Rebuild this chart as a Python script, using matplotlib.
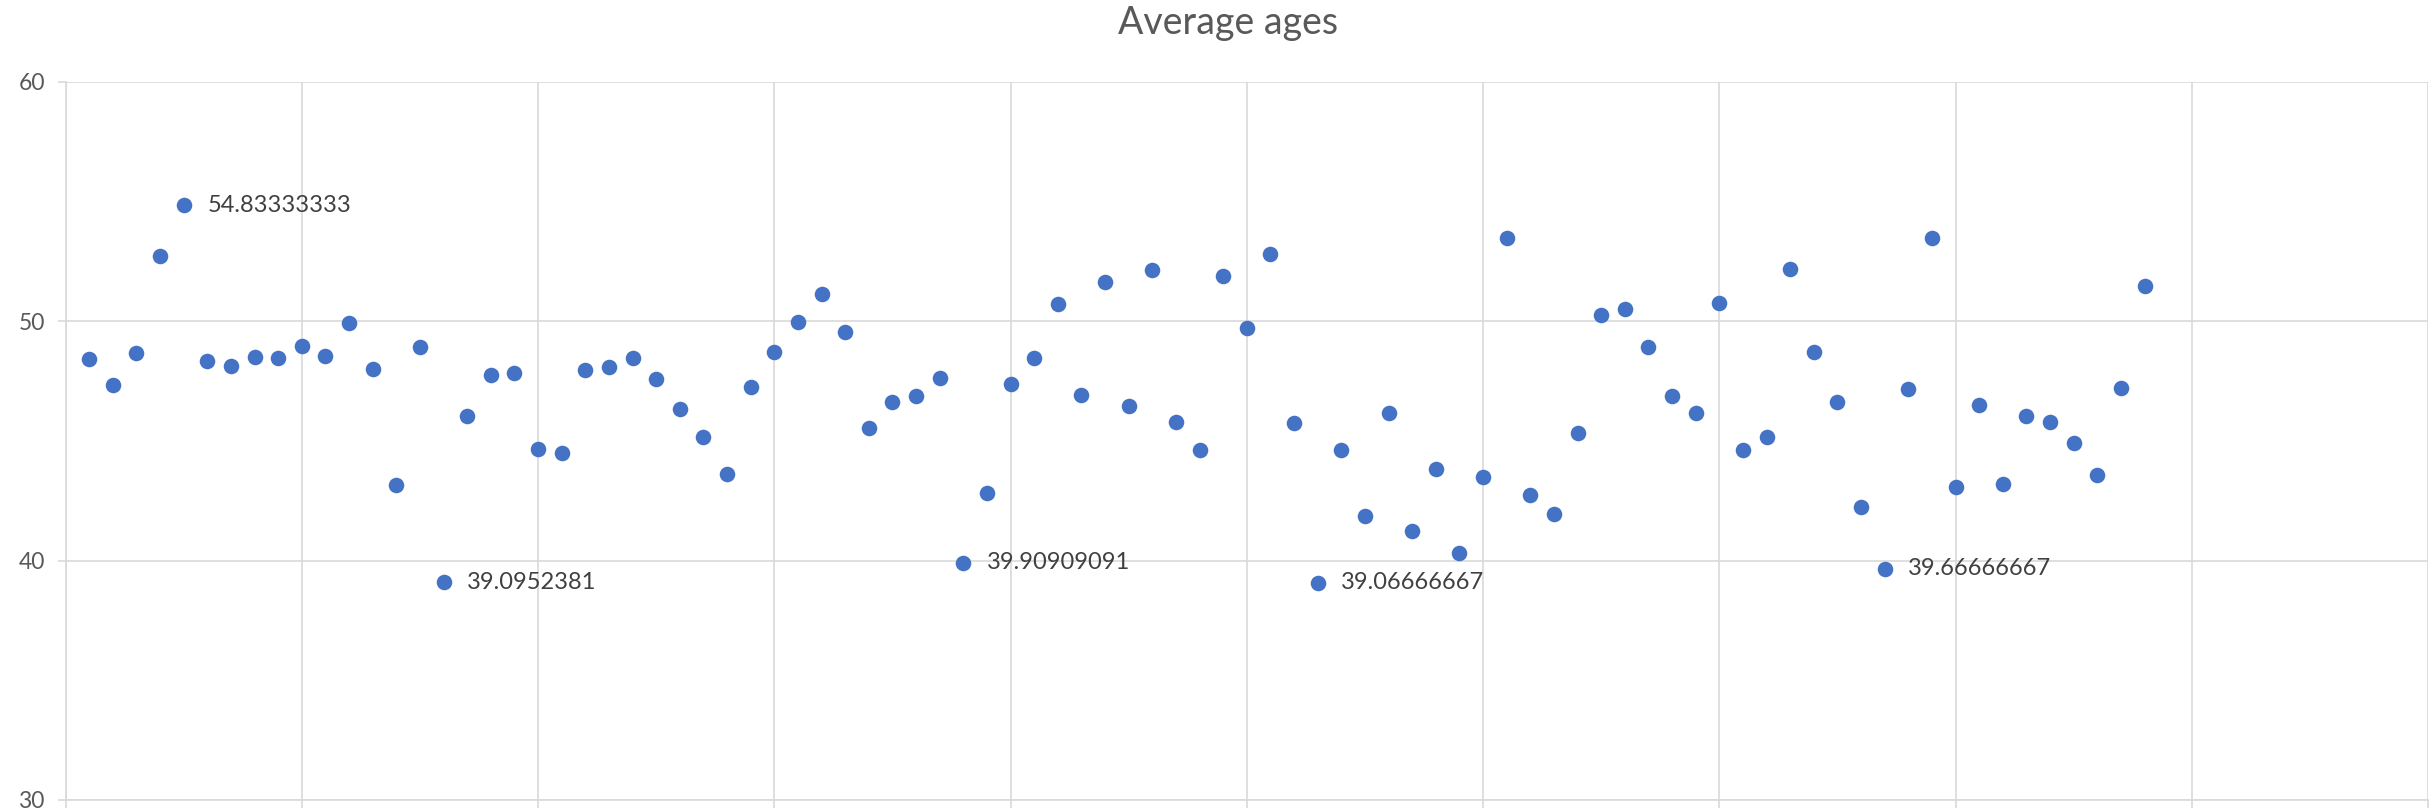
import matplotlib
matplotlib.use("Agg")
import matplotlib.pyplot as plt

plt.rcParams['font.family'] = ['Lato', 'DejaVu Sans']

# average age per group, in order (group 1 .. 88)
ages = [
    48.42, 47.32, 48.68, 52.73, 54.83333333, 48.33, 48.12, 48.48, 48.44, 48.96,
    48.53, 49.91, 48.01, 43.16, 48.92, 39.0952381, 46.05, 47.75, 47.84, 44.65,
    44.49, 47.94, 48.10, 48.44, 47.56, 46.33, 45.16, 43.61, 47.23, 48.72,
    49.95, 51.12, 49.54, 45.53, 46.63, 46.87, 47.62, 39.90909091, 42.81, 47.36,
    48.46, 50.73, 46.93, 51.65, 46.46, 52.15, 45.79, 44.60, 51.89, 49.73,
    52.78, 45.74, 39.06666667, 44.60, 41.88, 46.18, 41.24, 43.83, 40.31, 43.48,
    53.47, 42.75, 41.95, 45.34, 50.27, 50.49, 48.92, 46.89, 46.18, 50.77,
    44.62, 45.14, 52.19, 48.72, 46.63, 42.25, 39.66666667, 47.15, 53.47, 43.09,
    46.50, 43.18, 46.03, 45.79, 44.90, 43.57, 47.21, 51.48,
]
groups = list(range(1, len(ages) + 1))

# groups whose value is written next to the point
labelled = [5, 16, 38, 53, 77]

title = "Average ages"
y_ticks = [30, 40, 50, 60]
x_ticks = list(range(0, 101, 10))

grid_col = "#d9d9d9"
text_col = "#595959"

fig = plt.figure(figsize=(24.3, 8.11), dpi=100)
ax = fig.add_axes([65.6 / 2430, 11 / 811, (2428 - 65.6) / 2430, (800 - 81.6) / 811])

ax.scatter(groups, ages, s=11.2 ** 2, color="#4472C4", zorder=3, linewidths=0)

for g in labelled:
    v = ages[g - 1]
    ax.annotate(f"{v:.10g}", (g, v), xytext=(17, 0), textcoords="offset points",
                va="center", ha="left", fontsize=17, color="#404040")

ax.set_xlim(0, 100)
ax.set_ylim(30, 60)
ax.set_xticks(x_ticks)
ax.set_yticks(y_ticks)
ax.set_xticklabels([])
ax.tick_params(axis="both", direction="out", length=6, width=1.2, color=grid_col,
               labelsize=16.5, labelcolor=text_col, pad=9)
ax.grid(True, color=grid_col, linewidth=1.2, zorder=0)
ax.set_axisbelow(True)
for side in ["top", "right", "bottom", "left"]:
    ax.spines[side].set_color(grid_col)
    ax.spines[side].set_linewidth(1.2)
ax.spines["top"].set_visible(False)
ax.spines["right"].set_visible(False)

fig.text(1228 / 2430, 1 - 23 / 811, title, ha="center", va="center",
         fontsize=27, color=text_col)

fig.savefig("out.png", dpi=100)
